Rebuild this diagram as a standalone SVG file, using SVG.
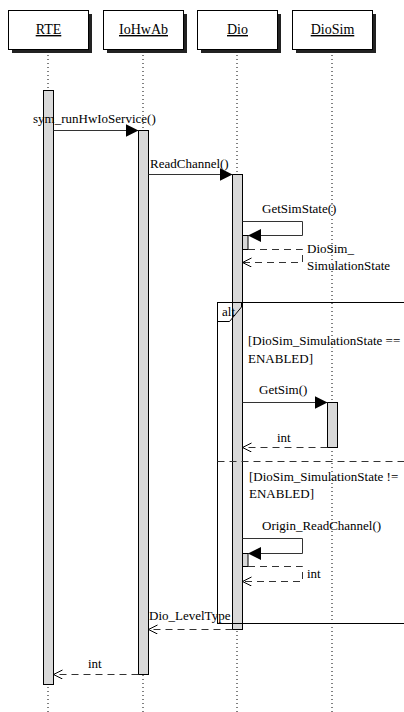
<svg xmlns="http://www.w3.org/2000/svg" width="404" height="712" viewBox="0 0 404 712">
<style>
text{font-family:"Liberation Serif","Times New Roman",serif;font-size:13px;fill:#000}
.hdr{font-size:14px;text-decoration:underline}
.box{fill:#fff;stroke:#000;stroke-width:1}
.shadow{fill:#222}
.life{stroke:#000;stroke-width:1;stroke-dasharray:1,3;fill:none}
.act{fill:#d9d9d9;stroke:#000;stroke-width:1}
.msg{stroke:#333;stroke-width:1;fill:none}
.ret{stroke:#333;stroke-width:1;fill:none;stroke-dasharray:7,5}
.frame{fill:none;stroke:#000;stroke-width:1}
</style>
<defs>
<marker id="filled" markerUnits="userSpaceOnUse" markerWidth="14" markerHeight="14" refX="13" refY="7" orient="auto">
<path d="M0,0.5 L13,7 L0,13.5 z" fill="#000"/>
</marker>
<marker id="open" markerUnits="userSpaceOnUse" markerWidth="10" markerHeight="10" refX="9" refY="4.5" orient="auto">
<path d="M0,0 L9,4.5 L0,9" fill="none" stroke="#000" stroke-width="1"/>
</marker>
</defs>
<rect width="404" height="712" fill="#fff"/>

<g id="lifelines">
<line class="life" x1="48" y1="55" x2="48" y2="712"/>
<line class="life" x1="143" y1="55" x2="143" y2="712"/>
<line class="life" x1="237" y1="55" x2="237" y2="712"/>
<line class="life" x1="332" y1="55" x2="332" y2="712"/>
</g>

<g id="RTE">
<rect class="shadow" x="12" y="14" width="80" height="39"/>
<rect class="box" x="8.5" y="10.5" width="80" height="39"/>
<text class="hdr" x="48.5" y="34" text-anchor="middle">RTE</text>
</g>
<g id="IoHwAb">
<rect class="shadow" x="107" y="14" width="80" height="39"/>
<rect class="box" x="103.5" y="10.5" width="80" height="39"/>
<text class="hdr" x="143.5" y="34" text-anchor="middle">IoHwAb</text>
</g>
<g id="Dio">
<rect class="shadow" x="201" y="14" width="80" height="39"/>
<rect class="box" x="197.5" y="10.5" width="80" height="39"/>
<text class="hdr" x="237.5" y="34" text-anchor="middle">Dio</text>
</g>
<g id="DioSim">
<rect class="shadow" x="296" y="14" width="80" height="39"/>
<rect class="box" x="292.5" y="10.5" width="80" height="39"/>
<text class="hdr" x="332.5" y="34" text-anchor="middle">DioSim</text>
</g>

<g id="activations">
<rect class="act" x="43.5" y="90.5" width="10" height="594"/>
<rect class="act" x="138.5" y="130.5" width="10" height="544"/>
<rect class="act" x="232.5" y="174.5" width="10" height="455"/>
<rect class="act" x="327.5" y="402.5" width="10" height="45"/>
<rect class="act" x="242.5" y="235.5" width="5.5" height="14"/>
<rect class="act" x="242.5" y="553.5" width="5.5" height="13"/>
</g>

<g id="alt-frame">
<rect class="frame" x="217.5" y="302.5" width="200" height="321"/>
<path class="frame" d="M217.5,321.5 H229.5 L241.5,307 V302.5"/>
<text x="222" y="316">alt</text>
<line class="ret" x1="217.5" y1="461.5" x2="404" y2="461.5"/>
<text x="248" y="345">[DioSim_SimulationState ==</text>
<text x="248" y="363">ENABLED]</text>
<text x="249" y="481">[DioSim_SimulationState !=</text>
<text x="249" y="498">ENABLED]</text>
</g>

<g id="connectors">
<line class="msg" x1="53.5" y1="130.5" x2="138.5" y2="130.5" marker-end="url(#filled)"/>
<text x="33" y="123">sym_runHwIoService()</text>

<line class="msg" x1="148.5" y1="174.5" x2="232.5" y2="174.5" marker-end="url(#filled)"/>
<text x="150" y="168">ReadChannel()</text>

<path class="msg" d="M242.5,221.5 H302.5 V235.5 H248" marker-end="url(#filled)"/>
<text x="262" y="213">GetSimState()</text>
<path class="ret" d="M248,249.5 H302.5 V262.5 H242.5" marker-end="url(#open)"/>
<text x="307" y="253">DioSim_</text>
<text x="307" y="270">SimulationState</text>

<line class="msg" x1="242.5" y1="402.5" x2="327.5" y2="402.5" marker-end="url(#filled)"/>
<text x="259" y="394">GetSim()</text>
<line class="ret" x1="327.5" y1="447.5" x2="242.5" y2="447.5" marker-end="url(#open)"/>
<text x="277" y="442">int</text>

<path class="msg" d="M242.5,538.5 H302.5 V553.5 H248" marker-end="url(#filled)"/>
<text x="262" y="530">Origin_ReadChannel()</text>
<path class="ret" d="M248,566.5 H302.5 V581.5 H242.5" marker-end="url(#open)"/>
<text x="307" y="578">int</text>

<line class="ret" x1="232.5" y1="629.5" x2="148.5" y2="629.5" marker-end="url(#open)"/>
<text x="149" y="620">Dio_LevelType</text>

<line class="ret" x1="138.5" y1="674.5" x2="53.5" y2="674.5" marker-end="url(#open)"/>
<text x="88" y="668">int</text>
</g>
</svg>
